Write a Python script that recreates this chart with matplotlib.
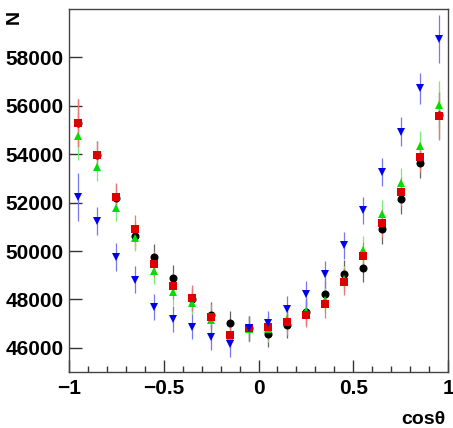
import numpy as np
import matplotlib.pyplot as plt
from matplotlib.ticker import MultipleLocator

# bin centres in cos(theta)
cos_theta = [-0.95, -0.85, -0.75, -0.65, -0.55, -0.45, -0.35, -0.25, -0.15, -0.05,
             0.05, 0.15, 0.25, 0.35, 0.45, 0.55, 0.65, 0.75, 0.85, 0.95]

n_black = [55300, 53950, 52200, 50640, 49770, 48880, 48000, 47370, 47010, 46800,
           46570, 46950, 47470, 48230, 49060, 49290, 50890, 52130, 53640, 55600]
n_red = [55290, 53950, 52230, 50920, 49470, 48570, 48050, 47290, 46550, 46800,
         46850, 47050, 47370, 47790, 48740, 49790, 51170, 52440, 53890, 55570]
n_green = [54750, 53470, 51790, 50550, 49190, 48300, 47870, 47150, 46460, 46780,
           46780, 47200, 47540, 47980, 48850, 50050, 51510, 52810, 54330, 56050]
n_blue = [52230, 51240, 49750, 48820, 47700, 47200, 46880, 46430, 46160, 46800,
          47010, 47610, 48230, 49030, 50230, 51680, 53260, 54920, 56720, 58760]

err = [1000, 590, 570, 550, 540, 540, 530, 530, 525, 520,
       520, 525, 530, 540, 550, 570, 580, 600, 630, 980]

y_ticks = [46000, 48000, 50000, 52000, 54000, 56000, 58000]
x_ticks = [-1, -0.5, 0, 0.5, 1]
x_labels = ['\u22121', '\u22120.5', '0', '0.5', '1']

fig = plt.figure(figsize=(4.53, 4.28), dpi=100)
ax = fig.add_axes([0.1523, 0.1308, 0.8367, 0.8482])

series = [
    (n_black, 'o', 'black', '#666666'),
    (n_green, '^', '#00dd00', '#77ee77'),
    (n_red, 's', '#dd0000', '#ee7777'),
    (n_blue, 'v', '#0000ee', '#7777ee'),
]
for vals, mk, col, ecol in series:
    ax.errorbar(cos_theta, vals, yerr=err, fmt=mk, color=col, ecolor=ecol,
                elinewidth=0.9, capsize=1.6, capthick=0.9, markersize=5.8,
                markeredgewidth=0)

ax.set_xlim(-1, 1)
ax.set_ylim(45000, 60000)
ax.set_xticks(x_ticks)
ax.set_xticklabels(x_labels)
ax.xaxis.set_minor_locator(MultipleLocator(0.1))
ax.set_yticks(y_ticks)
ax.set_yticklabels([str(v) for v in y_ticks])

ax.tick_params(axis='both', which='major', direction='in', length=9,
               width=1, labelsize=15, color='#333333')
ax.tick_params(axis='x', which='minor', direction='in', length=4.5, width=1,
               color='#333333')
ax.tick_params(axis='x', pad=5)
ax.tick_params(axis='y', pad=4)
for lab in ax.get_xticklabels() + ax.get_yticklabels():
    lab.set_fontweight('bold')
    lab.set_family('Liberation Sans')
for sp in ax.spines.values():
    sp.set_color('#444444')
    sp.set_linewidth(1)

fig.text(0.983, 0.0, 'cos\u03b8', ha='right', va='bottom', fontsize=14,
         fontweight='bold', family='Liberation Sans')
fig.text(0.012, 0.978, 'N', ha='left', va='top', fontsize=14, rotation=90,
         fontweight='bold', family='Liberation Sans')

fig.savefig('out.png', dpi=100)
